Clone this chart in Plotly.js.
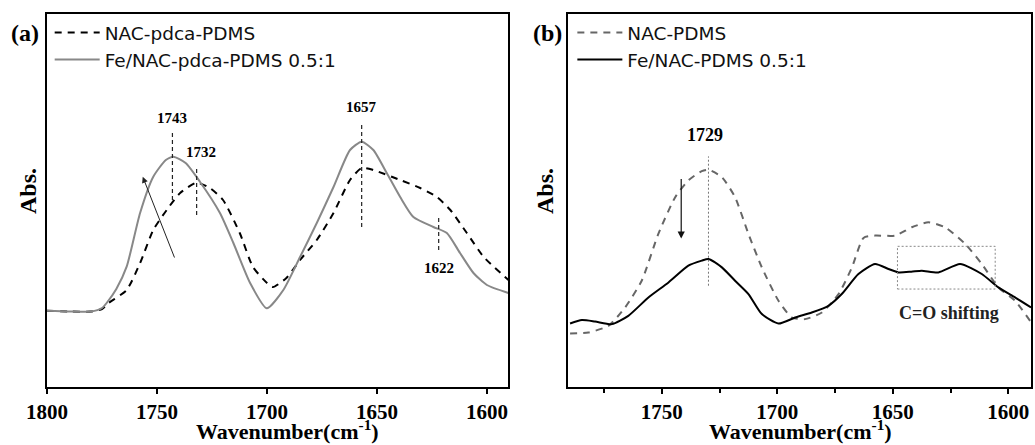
<!DOCTYPE html>
<html>
<head>
<meta charset="utf-8">
<script src="https://cdn.plot.ly/plotly-3.0.1.min.js"></script>
<style>html,body{margin:0;padding:0;background:#fff;}#chart{width:1035px;height:445px;}</style>
</head>
<body>
<div id="chart"></div>
<script>
// ---------- Panel (a) ----------
const aSolidWn = [1800,1790,1780,1775,1772.9,1768.5,1763.8,1757.7,1751.7,1746,1742.6,1737,1730.5,1721.4,1715.3,1707.7,1700.1,1692.6,1685,1677.4,1669.8,1662.3,1657,1651.7,1645.6,1639.5,1633.5,1624.4,1618.3,1612.3,1606.2,1600.1,1590.3];
const aSolidAbs = [76.3,75.5,75.5,79,84,98,120.3,174,210.3,227,230.3,224,205.3,174,144,104,78.7,97,130,164,200,237,245.3,237,214,190,170,160,154,134,114,102,94];
const aDashWn = [1800,1790,1780,1775,1772,1763.8,1757.7,1751.7,1745.6,1739.5,1732,1726,1720,1712.4,1706.4,1700,1697.3,1691.2,1685,1677.4,1669.8,1662.3,1657,1651.7,1639.5,1630.4,1622.8,1616.7,1609.2,1601.5,1590.3];
const aDashAbs = [76.3,75.5,75.5,78,84,97,124,157,177,194,204.3,199,187,154,120,104,100,109,127,147,174,207,219,217,207,199,190,177,154,130,107];
const aNames = ["NAC-pdca-PDMS", "Fe/NAC-pdca-PDMS 0.5:1"];
const aPeakWn = [1743, 1732, 1657, 1622];
const aPeakLabelWn = [1743, 1730, 1657, 1622];
const aPeakLabelAbs = [269, 235, 280, 119];
const aPeakLineLo = [187, 172, 160, 137];
const aPeakLineHi = [255, 221, 262, 169];

// ---------- Panel (b) ----------
const bSolidWn = [1789.7,1784.6,1778.9,1771.6,1764.5,1755.8,1747.1,1738.5,1732.7,1729.8,1724,1718.3,1712.5,1706.7,1699.5,1692.3,1685.1,1677.9,1672.1,1664.9,1657.7,1651.9,1647.6,1642,1637.5,1630.3,1620.9,1611.5,1604.3,1597.1,1590.2];
const bSolidAbs = [63.3,66.7,65.3,62.7,71,89.3,104.3,121,126,127.7,119.3,106,92.7,72.7,63.3,69.3,74.3,81,92.7,112.7,122.7,117.7,114.3,115,116,114.3,122.7,112.7,99.3,89.3,79.3];
const bDashWn = [1789.7,1781.8,1773.1,1765.9,1758.7,1751.5,1744.2,1738.5,1732.7,1729.8,1724,1718.3,1712.5,1706.7,1699.5,1693.7,1688,1680.7,1673.5,1667.7,1662.7,1657.7,1649,1641.8,1634.6,1627.4,1618.7,1611.5,1604.3,1597.1,1590.6];
const bDashAbs = [53.3,54.3,61,79.3,106,152.7,189.3,206,215.3,216.7,209.3,189.3,152.7,119.3,86,69.3,67.7,74.3,92.7,119.3,148.7,151,151,159.3,164.3,159.3,142.7,122.7,99.3,86,66];
const bNames = ["NAC-PDMS", "Fe/NAC-PDMS 0.5:1"];
const bPeakWn = 1729.8;
const bPeakLabel = "1729";
const bBox = {wn0: 1648, wn1: 1605.7, lo: 97.7, hi: 140.3};

const tickVals = [1800, 1750, 1700, 1650, 1600];

const serif = "'Liberation Serif', 'Times New Roman', serif";
const sans = "'DejaVu Sans', 'Noto Sans', sans-serif";

const traces = [
  {x: aDashWn, y: aDashAbs, name: aNames[0], type: 'scatter', mode: 'lines', xaxis: 'x', yaxis: 'y',
   line: {color: '#000', width: 2, dash: '7px,6px', shape: 'spline', smoothing: 0.6}, legend: 'legend', legendgroup: 'a1'},
  {x: aSolidWn, y: aSolidAbs, name: aNames[1], type: 'scatter', mode: 'lines', xaxis: 'x', yaxis: 'y',
   line: {color: '#888', width: 2, shape: 'spline', smoothing: 0.6}, legend: 'legend', legendgroup: 'a2'},
  {x: bDashWn, y: bDashAbs, name: bNames[0], type: 'scatter', mode: 'lines', xaxis: 'x2', yaxis: 'y2',
   line: {color: '#666', width: 2, dash: '7px,6px', shape: 'spline', smoothing: 0.6}, legend: 'legend2', legendgroup: 'b1'},
  {x: bSolidWn, y: bSolidAbs, name: bNames[1], type: 'scatter', mode: 'lines', xaxis: 'x2', yaxis: 'y2',
   line: {color: '#000', width: 2, shape: 'spline', smoothing: 0.6}, legend: 'legend2', legendgroup: 'b2'}
];

const shapes = [];
aPeakWn.forEach((w, i) => {
  shapes.push({type: 'line', xref: 'x', yref: 'y', x0: w, x1: w, y0: aPeakLineLo[i], y1: aPeakLineHi[i],
    line: {color: '#222', width: 1.2, dash: '4px,3px'}});
});
shapes.push({type: 'line', xref: 'x2', yref: 'y2', x0: bPeakWn, x1: bPeakWn, y0: 101, y1: 230,
  line: {color: '#777', width: 1, dash: '2px,2px'}});
shapes.push({type: 'rect', xref: 'x2', yref: 'y2', x0: bBox.wn0, x1: bBox.wn1, y0: bBox.lo, y1: bBox.hi,
  line: {color: '#888', width: 1, dash: '2px,2px'}});

const C = {xanchor: 'center', yanchor: 'middle', showarrow: false};
const annotations = [];
aPeakLabelWn.forEach((w, i) => {
  annotations.push(Object.assign({}, C, {xref: 'x', yref: 'y', x: w, y: aPeakLabelAbs[i], text: String(aPeakWn[i]),
    font: {family: serif, size: 15, color: '#000', weight: 'bold'}}));
});
annotations.push({xref: 'x', yref: 'y', x: 1756.5, y: 210.3, ax: 1741.8, ay: 128, axref: 'x', ayref: 'y',
  text: '', showarrow: true, arrowhead: 2, arrowsize: 1.2, arrowwidth: 1, arrowcolor: '#222'});
annotations.push(Object.assign({}, C, {xref: 'x2', yref: 'y2', x: 1731.3, y: 251, text: bPeakLabel,
  font: {family: serif, size: 18, color: '#000', weight: 'bold'}}));
annotations.push({xref: 'x2', yref: 'y2', x: 1741.6, y: 148, ax: 1741.6, ay: 209, axref: 'x2', ayref: 'y2',
  text: '', showarrow: true, arrowhead: 2, arrowsize: 1.2, arrowwidth: 1.2, arrowcolor: '#111'});
annotations.push({xref: 'x2', yref: 'y2', x: 1648, y: 74, xanchor: 'left', yanchor: 'middle', text: 'C=O shifting', showarrow: false,
  font: {family: serif, size: 18, color: '#222', weight: 'bold'}});
// panel letters
annotations.push(Object.assign({}, C, {xref: 'paper', yref: 'paper', x: 25/1035, y: (387-33)/373, text: '(a)',
  font: {family: serif, size: 24, color: '#000', weight: 'bold'}}));
annotations.push(Object.assign({}, C, {xref: 'paper', yref: 'paper', x: 547/1035, y: (387-33)/373, text: '(b)',
  font: {family: serif, size: 24, color: '#000', weight: 'bold'}}));
// axis titles
const xTitle = 'Wavenumber(cm<sup>-1</sup>)';
annotations.push({xref: 'paper', yref: 'paper', x: 287/1035, y: (387-446)/373, xanchor: 'center', yanchor: 'bottom',
  showarrow: false, text: xTitle, font: {family: serif, size: 22, color: '#000', weight: 'bold'}});
annotations.push({xref: 'paper', yref: 'paper', x: 800/1035, y: (387-446)/373, xanchor: 'center', yanchor: 'bottom',
  showarrow: false, text: xTitle, font: {family: serif, size: 22, color: '#000', weight: 'bold'}});
annotations.push(Object.assign({}, C, {xref: 'paper', yref: 'paper', x: 28/1035, y: (387-191)/373, text: 'Abs.', textangle: -90,
  font: {family: serif, size: 24, color: '#000', weight: 'bold'}}));
annotations.push(Object.assign({}, C, {xref: 'paper', yref: 'paper', x: 545/1035, y: (387-191)/373, text: 'Abs.', textangle: -90,
  font: {family: serif, size: 24, color: '#000', weight: 'bold'}}));

const xBase = {
  showline: true, linecolor: '#000', linewidth: 2, mirror: true,
  ticks: 'outside', ticklen: 5, tickwidth: 2, tickcolor: '#000',
  tickvals: tickVals, showgrid: false, zeroline: false,
  tickfont: {family: serif, size: 21, color: '#000', weight: 'bold'}
};
const yBase = {showline: true, linecolor: '#000', linewidth: 2, mirror: true, showticklabels: false,
  ticks: '', showgrid: false, zeroline: false};

const legendBase = {
  xanchor: 'left', yanchor: 'top', bgcolor: 'rgba(0,0,0,0)', borderwidth: 0,
  font: {family: sans, size: 18.5, color: '#111'}, itemwidth: 45, tracegroupgap: 0
};

const layout = {
  width: 1035, height: 445,
  margin: {l: 0, r: 0, t: 14, b: 58},
  paper_bgcolor: '#fff', plot_bgcolor: '#fff',
  showlegend: true,
  xaxis: Object.assign({}, xBase, {domain: [47/1035, 508/1035], range: [1800, 1590.5], anchor: 'y'}),
  yaxis: Object.assign({}, yBase, {domain: [0, 1], range: [0, 373], anchor: 'x'}),
  xaxis2: Object.assign({}, xBase, {domain: [568/1035, 1031/1035], range: [1790.6, 1590.2], anchor: 'y2',
    minor: {ticks: 'outside', ticklen: 4, tickwidth: 2, tickcolor: '#000', dtick: 25, tick0: 1600}}),
  yaxis2: Object.assign({}, yBase, {domain: [0, 1], range: [0, 372], anchor: 'x2'}),
  legend: Object.assign({}, legendBase, {x: 0.048, y: 1.0}),
  legend2: Object.assign({}, legendBase, {x: 0.553, y: 1.0}),
  shapes: shapes,
  annotations: annotations
};

Plotly.newPlot('chart', traces, layout, {displayModeBar: false, staticPlot: true});
</script>
</body>
</html>
